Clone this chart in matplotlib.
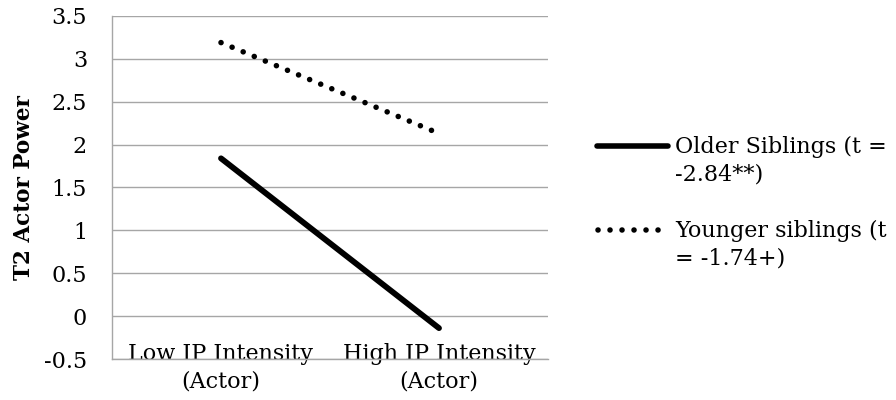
import matplotlib
matplotlib.use("Agg")
import matplotlib.pyplot as plt
from matplotlib.lines import Line2D
from matplotlib.ticker import FuncFormatter, MultipleLocator

# ---- data ----
categories = ["Low IP Intensity\n(Actor)", "High IP Intensity\n(Actor)"]
older_siblings = [1.84, -0.14]
younger_siblings = [3.19, 2.13]
series_labels = ["Older Siblings (t =\n-2.84**)", "Younger siblings (t\n= -1.74+)"]
y_label = "T2 Actor Power"

plt.rcParams['font.family'] = ['DejaVu Serif']

W, H = 896, 400
fig = plt.figure(figsize=(W / 100, H / 100), dpi=100)
ax = fig.add_axes([112 / W, 1 - 359 / H, (548 - 112) / W, (359 - 16) / H])

DOT_LW = 4.0
DOTS = (0, (0.01, 8.6 / DOT_LW))

x = list(range(len(categories)))
ax.plot(x, older_siblings, color='black', lw=4.2, solid_capstyle='round')
ax.plot(x, younger_siblings, color='black', lw=DOT_LW,
        linestyle=DOTS, dash_capstyle='round')

ax.set_xlim(-0.5, len(categories) - 0.5)
ax.set_ylim(-0.5, 3.5)
ax.yaxis.set_major_locator(MultipleLocator(0.5))
ax.yaxis.set_major_formatter(FuncFormatter(lambda v, p: f"{v:g}"))
ax.grid(axis='y', color='#a6a6a6', lw=1.0)
ax.set_axisbelow(True)
for s in ['top', 'right']:
    ax.spines[s].set_visible(False)
for s in ['left', 'bottom']:
    ax.spines[s].set_color('#a6a6a6')
    ax.spines[s].set_linewidth(1.0)
ax.tick_params(axis='both', length=0)
ax.tick_params(axis='y', pad=18, labelsize=16)
ax.set_xticks(x, categories)
ax.tick_params(axis='x', pad=-11.5, labelsize=16)
for t in ax.get_xticklabels():
    t.set_linespacing(1.35)

ax.set_ylabel(y_label, fontsize=15.5, fontweight='bold')
ax.yaxis.set_label_coords((35 - 112) / 436, 0.5)

# ---- legend (manual, Excel style) ----
fig.add_artist(Line2D([597 / W, 668 / W], [1 - 146 / H] * 2, transform=fig.transFigure,
                      color='black', lw=4, solid_capstyle='round'))
fig.add_artist(Line2D([598 / W, 661 / W], [1 - 230 / H] * 2, transform=fig.transFigure,
                      color='black', lw=DOT_LW, linestyle=DOTS,
                      dash_capstyle='round'))
fig.text(675 / W, 1 - 160.5 / H, series_labels[0], fontsize=16, ha='left', va='center',
         linespacing=1.3)
fig.text(675 / W, 1 - 245 / H, series_labels[1], fontsize=16, ha='left', va='center',
         linespacing=1.3)

fig.savefig("out.png", dpi=100)
